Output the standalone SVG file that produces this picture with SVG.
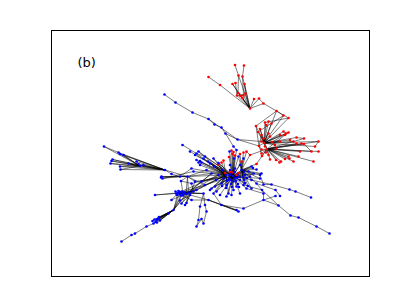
<svg xmlns="http://www.w3.org/2000/svg" width="411" height="308" viewBox="0 0 411 308">
<style>
.e{fill:none;stroke:#000;stroke-width:0.6;stroke-opacity:0.85;stroke-linecap:round}
.r{fill:#ff0000}
.b{fill:#0000ff}
.lbl{font-family:"DejaVu Sans",sans-serif;font-size:13px;fill:#000}
</style>
<rect x="0" y="0" width="411" height="308" fill="#fff"/>
<rect x="51.5" y="30.5" width="318" height="246" fill="none" stroke="#000" stroke-width="1"/>
<text class="lbl" x="77.5" y="66.5">(b)</text>
<g id="connectors">
<path class="e" d="M208.5 77L220 85M220 85L250 108.5M235 65L238.5 75.5M238.5 75.5L238 93M244 65.5L242.5 76.5M242.5 76.5L243.5 95.5M232.5 84L240.5 96M235.5 83L237 95.5M244.5 84L245.5 93.5M238 93L250 108.5M240.5 96L250 108.5M243.5 95.5L250 108.5M245.5 93.5L250 108.5M237 95.5L250 108.5M242.5 98L250 108.5M238.5 75.5L250 108.5M242.5 76.5L250 108.5M232.5 84L250 108.5M244.5 84L250 108.5M238 93L243.5 95.5M240.5 96L245.5 93.5M237 95.5L243.5 95.5M250 108.5L254 99M250 108.5L259 98.5M250 108.5L263.5 103.5M259 98.5L263.5 103.5M263.5 103.5L276.5 111M276.5 111L283.5 115.5M276.5 111L288.5 118"/>
<path class="e" d="M264 143L256 126M264 143L260 129M264 143L265 122.5M264 143L268.5 121.5M264 143L266 125M264 143L271.5 123.5M264 143L261.5 135M264 143L263.5 138.5M264 143L261.5 141.5M264 143L268.5 133.5M264 143L270 136.5M264 143L283.5 131.5M264 143L286 133.5M264 143L288.5 132.5M264 143L280 135M264 143L296.5 137.5M264 143L293.5 141.5M264 143L318.5 141.5M264 143L315 146.5M264 143L265 146.5M264 143L275 145M264 143L280 141.5M264 143L290 140M264 143L259 146M264 143L272 142M264 143L258 132M264 143L283.5 115.5M264 143L288.5 118M264 143L276.5 111"/>
<path class="e" d="M267 149L285 135M267 149L304 138.5M267 149L296.5 143.5M267 149L301.5 143.5M267 149L304 144M267 149L318.5 151.5M267 149L311.5 151.5M267 149L300 151.5M267 149L298.5 156.5M267 149L288.5 156.5M267 149L289.5 158.5M267 149L313.5 161.5M267 149L293.5 161.5M267 149L285 159M267 149L279.5 162.5M267 149L281 161.5M267 149L276 160M267 149L270 159.5M267 149L261.5 149.5M267 149L266 152.5M267 149L268.5 155M267 149L261.5 153.5M267 149L276.5 148.5M267 149L262 156M267 149L264 143M267 149L318.5 141.5M267 149L250 155M267 149L260 129"/>
<path class="e" d="M283.5 115.5L258 132M288.5 118L265 122.5M276.5 111L256 126M283.5 131.5L286 133.5M288.5 132.5L272 142M304 144L311.5 151.5M261.5 149.5L259 146M296.5 137.5L304 138.5M315 146.5L318.5 141.5M259 146L261.5 135M259 146L261.5 153.5M259 146L256 126M246.5 151.5L250 155M256.5 164L267 149M250 155L241.5 170"/>
<path class="e" d="M164.5 94.5L175.5 102.5L192.5 112.5L208.5 119L214.5 124.5L221.5 127.5L225.5 133.5L237.5 139.5L259 146M237.5 139.5L261.5 141.5M208.5 119L237.5 139.5M225.5 133.5L233.5 146.5L236.5 150M182.5 145L196.5 153.5L205 156.5L233 176M196.5 153.5L226 175"/>
<path class="e" d="M233 176L229.5 151.5M233 176L236.5 150M233 176L238.5 156.5M233 176L234 158.5M233 176L240 165M233 176L230 165M233 176L233.5 190M233 176L228.5 193.5M233 176L221.5 183.5M233 176L223.5 178.5M233 176L233.5 181.5M233 176L240 180M233 176L236.5 186.5M233 176L235 168.5M233 176L228.5 180M233 176L226.5 185M233 176L230 170M233 176L237 178M233 176L229 178M233 176L238 174M233 176L231 173M233 176L205 185M233 176L206.5 170M233 176L196.5 160M233 176L195 155M233 176L190 151.5M233 176L191.5 168.5M233 176L195 181.5M233 176L251.5 180M233 176L246.5 188.5M233 176L240 193.5M233 176L253.5 173.5M233 176L251.5 166.5M233 176L220 195M233 176L215 186.5M233 176L231.5 150.5M233 176L233.5 152M233 176L235 155.5M233 176L225 173M233 176L232.5 172.5M233 176L241.5 161.5M233 176L241.5 170M233 176L226 175M233 176L232.5 154M233 176L229 157"/>
<path class="e" d="M233 176L236 181M233 176L239 177M233 176L235 172M233 176L231 180M233 176L243 177M233 176L238 184M233 176L227 181M233 176L231 184M233 176L244 172M233 176L236 175M233 176L229.5 175M233 176L234.5 178.5M233 176L239 187M233 176L245 183M233 176L232 187M233 176L226 188M233 176L222 186M233 176L247 178M233 176L201.5 181.5M233 176L211.5 188.5M233 176L216.5 191.5M233 176L226.5 196.5M233 176L231.5 195M233 176L251.5 188.5M233 176L260 178.5M233 176L261.5 173.5M233 176L236.5 175M233 176L238.5 173M233 176L230 172M233 176L198.5 151.5M233 176L213.5 158.5M233 176L218.5 163M233 176L208 161.5"/>
<path class="e" d="M241.5 170L243.5 158.5M241.5 170L251.5 166.5M241.5 170L256.5 169.5M241.5 170L253.5 173.5M241.5 170L260 175M241.5 170L251.5 180M241.5 170L256.5 183.5M241.5 170L245 175M241.5 170L248.5 171.5M241.5 170L244 180M241.5 170L248 186M241.5 170L253 168M241.5 170L250 176.5M241.5 170L243.5 185M241.5 170L240 180M241.5 170L240 154M241.5 170L243.5 152.5M241.5 170L256.5 164M241.5 170L240 165M241.5 170L246.5 151.5M241.5 170L241.5 161.5M241.5 170L238.5 156.5M241.5 170L239 177M241.5 170L243 177M241.5 170L244 172M241.5 170L245 183M241.5 170L247 178M241.5 170L251.5 188.5M241.5 170L260 178.5M241.5 170L261.5 173.5M241.5 170L238.5 173"/>
<path class="e" d="M226 175L213.5 193.5M226 175L210 190M226 175L218.5 175M226 175L211.5 173.5M226 175L200 165M226 175L203.5 158.5M226 175L193.5 171.5M226 175L191.5 183.5M226 175L196.5 190M226 175L190 193.5M226 175L222 170M226 175L216 180M226 175L215 186.5M226 175L221.5 183.5M226 175L223.5 160.5M226 175L221.5 162.5M226 175L218 164.5M226 175L210 163.5M226 175L214 166.5M226 175L201.5 162.5M226 175L198.5 162.5M226 175L200 161M226 175L228.5 193.5M226 175L205 185M226 175L227 181M226 175L226 188M226 175L222 186M226 175L201.5 181.5M226 175L211.5 188.5M226 175L216.5 191.5M226 175L198.5 151.5M226 175L213.5 158.5M226 175L218.5 163M226 175L208 161.5"/>
<path class="e" d="M104 146.5L118.5 152.5M104 146.5L140 166M118.5 152.5L140 166M120 154L140 166M123.5 155L140 166M112.5 159.5L140 166M111.5 161L140 166M110.5 163.5L140 166M120 166.5L140 166M120.5 169.5L140 166M128.5 163.5L140 166M136.5 161.5L140 166M138.5 164L140 166M143.5 165L140 166M118.5 152.5L165 170M120 154L165 170M123.5 155L165 170M112.5 159.5L165 170M111.5 161L165 170M110.5 163.5L165 170M120 166.5L165 170M120.5 169.5L165 170M128.5 163.5L165 170M136.5 161.5L165 170M138.5 164L165 170M143.5 165L165 170M140 166L165 170M165 170L171.5 174L180 176.5L187.5 176.5M187.5 176.5L195 181.5M187.5 176.5L205 185M187.5 176.5L206.5 170M161.5 176.5L180 176.5M162.5 178.5L180 176.5M161 177.5L187.5 176.5M161.5 176.5L187.5 176.5M162.5 178.5L193.5 171.5M181 181L187.5 176.5M181 181L191.5 183.5M180 176.5L191.5 168.5M165 170L187.5 176.5M187.5 176.5L211.5 173.5M187.5 176.5L226 175"/>
<path class="e" d="M175.5 191.5L178 193M180 192L178 193M183 193.5L178 193M177 195L178 193M181 195.5L178 193M186 194L178 193M155 195L178 193M171.5 200L178 193M180 200.5L190 195M181.5 203.5L190 195M185 205L190 195M186.5 203L190 195M191.5 200L178 193M190 195L178 193M193.5 191.5L178 193M203.5 193.5L178 193M190 195L195 181.5M193.5 191.5L191.5 183.5M203.5 193.5L190 193.5M178 193L196.5 190M178 193L205 185M186 194L187.5 176.5M183 193.5L181 181M178 193L173.5 210L168.5 213.5M180 192L173.5 210M183 193.5L173.5 210M186 194L173.5 210M181 195.5L173.5 210M158.5 218.5L153.5 223.5L146.5 226.5L135 233.5L131.5 235L121.5 241.5M168.5 213.5L160 220.5M168.5 213.5L156.5 220M168.5 213.5L154.5 219.5M186 194L211.5 173.5M178 193L218.5 175"/>
<path class="e" d="M178.5 191L188.5 192.5M182 191.5L188.5 192.5M184.5 192.5L188.5 192.5M176 193.5L188.5 192.5M179.5 194.5L188.5 192.5M183 195.5L188.5 192.5M178 193L188.5 192.5M155 195L188.5 192.5M188.5 192.5L193.5 191.5M188.5 192.5L203.5 193.5M188.5 192.5L196.5 190M188.5 192.5L205 185M188.5 192.5L187.5 176.5M188.5 192.5L173.5 210M188.5 192.5L171.5 200M188.5 192.5L181.5 203.5M188.5 192.5L186.5 203M188.5 192.5L211.5 173.5M188.5 192.5L218.5 175M173.5 210L158.5 218.5M173.5 210L156.5 220M173.5 210L157.5 219M173.5 210L153.5 223.5M173.5 210L154.5 219.5M173.5 210L159 217M173.5 210L155.5 222M173.5 210L160 220.5M173.5 210L152.5 221M173.5 210L157 222.5"/>
<path class="e" d="M203.5 193.5L205 205L206.5 211.5L203.5 223.5L201.5 219M200 206.5L198.5 220L196.5 226.5M200 206.5L203.5 193.5M201.5 219L196.5 226.5"/>
<path class="e" d="M191.5 200L208.5 200L221.5 205L236.5 210M221.5 205L238.5 211.5M221.5 205L243.5 208.5M208.5 200L236.5 210M213.5 193.5L221.5 205M243.5 208.5L263.5 200L263.5 193.5L246.5 188.5M263.5 200L275.5 196M190 195L208.5 200M208.5 200L238.5 211.5"/>
<path class="e" d="M260 175L263.5 184.5L271.5 184.5L289.5 189.5L295.5 191.5L311 197.5M251.5 180L271.5 184.5M256.5 183.5L275.5 190L280 196M262 190L278.5 205.5L290.5 215.5L298.5 217.5L316.5 226.5L329.5 233.5M243.5 185L262 190M256.5 183.5L262 190M262 190L263.5 193.5M263.5 200L278.5 205.5"/>
</g>
<g id="nodes">
<g id="r1"><circle class="r" cx="208.5" cy="77" r="1.3"/></g>
<g id="r2"><circle class="r" cx="220" cy="85" r="1.3"/></g>
<g id="r3"><circle class="r" cx="235" cy="65" r="1.3"/></g>
<g id="r4"><circle class="r" cx="244" cy="65.5" r="1.3"/></g>
<g id="r5"><circle class="r" cx="238.5" cy="75.5" r="1.3"/></g>
<g id="r6"><circle class="r" cx="242.5" cy="76.5" r="1.3"/></g>
<g id="r7"><circle class="r" cx="232.5" cy="84" r="1.3"/></g>
<g id="r8"><circle class="r" cx="235.5" cy="83" r="1.3"/></g>
<g id="r9"><circle class="r" cx="244.5" cy="84" r="1.3"/></g>
<g id="r10"><circle class="r" cx="238" cy="93" r="1.3"/></g>
<g id="r11"><circle class="r" cx="240.5" cy="96" r="1.3"/></g>
<g id="r12"><circle class="r" cx="243.5" cy="95.5" r="1.3"/></g>
<g id="r13"><circle class="r" cx="245.5" cy="93.5" r="1.3"/></g>
<g id="r14"><circle class="r" cx="237" cy="95.5" r="1.3"/></g>
<g id="r15"><circle class="r" cx="242.5" cy="98" r="1.3"/></g>
<g id="r16"><circle class="r" cx="250" cy="108.5" r="1.3"/></g>
<g id="r17"><circle class="r" cx="254" cy="99" r="1.3"/></g>
<g id="r18"><circle class="r" cx="259" cy="98.5" r="1.3"/></g>
<g id="r19"><circle class="r" cx="263.5" cy="103.5" r="1.3"/></g>
<g id="r20"><circle class="r" cx="276.5" cy="111" r="1.3"/></g>
<g id="r21"><circle class="r" cx="283.5" cy="115.5" r="1.3"/></g>
<g id="r22"><circle class="r" cx="288.5" cy="118" r="1.3"/></g>
<g id="r23"><circle class="r" cx="256" cy="126" r="1.3"/></g>
<g id="r24"><circle class="r" cx="260" cy="129" r="1.3"/></g>
<g id="r25"><circle class="r" cx="265" cy="122.5" r="1.3"/></g>
<g id="r26"><circle class="r" cx="268.5" cy="121.5" r="1.3"/></g>
<g id="r27"><circle class="r" cx="266" cy="125" r="1.3"/></g>
<g id="r28"><circle class="r" cx="271.5" cy="123.5" r="1.3"/></g>
<g id="r29"><circle class="r" cx="261.5" cy="135" r="1.3"/></g>
<g id="r30"><circle class="r" cx="263.5" cy="138.5" r="1.3"/></g>
<g id="r31"><circle class="r" cx="261.5" cy="141.5" r="1.3"/></g>
<g id="r32"><circle class="r" cx="268.5" cy="133.5" r="1.3"/></g>
<g id="r33"><circle class="r" cx="270" cy="136.5" r="1.3"/></g>
<g id="r34"><circle class="r" cx="283.5" cy="131.5" r="1.3"/></g>
<g id="r35"><circle class="r" cx="286" cy="133.5" r="1.3"/></g>
<g id="r36"><circle class="r" cx="288.5" cy="132.5" r="1.3"/></g>
<g id="r37"><circle class="r" cx="285" cy="135" r="1.3"/></g>
<g id="r38"><circle class="r" cx="280" cy="135" r="1.3"/></g>
<g id="r39"><circle class="r" cx="296.5" cy="137.5" r="1.3"/></g>
<g id="r40"><circle class="r" cx="304" cy="138.5" r="1.3"/></g>
<g id="r41"><circle class="r" cx="293.5" cy="141.5" r="1.3"/></g>
<g id="r42"><circle class="r" cx="296.5" cy="143.5" r="1.3"/></g>
<g id="r43"><circle class="r" cx="301.5" cy="143.5" r="1.3"/></g>
<g id="r44"><circle class="r" cx="304" cy="144" r="1.3"/></g>
<g id="r45"><circle class="r" cx="318.5" cy="141.5" r="1.3"/></g>
<g id="r46"><circle class="r" cx="315" cy="146.5" r="1.3"/></g>
<g id="r47"><circle class="r" cx="318.5" cy="151.5" r="1.3"/></g>
<g id="r48"><circle class="r" cx="311.5" cy="151.5" r="1.3"/></g>
<g id="r49"><circle class="r" cx="300" cy="151.5" r="1.3"/></g>
<g id="r50"><circle class="r" cx="298.5" cy="156.5" r="1.3"/></g>
<g id="r51"><circle class="r" cx="288.5" cy="156.5" r="1.3"/></g>
<g id="r52"><circle class="r" cx="289.5" cy="158.5" r="1.3"/></g>
<g id="r53"><circle class="r" cx="313.5" cy="161.5" r="1.3"/></g>
<g id="r54"><circle class="r" cx="293.5" cy="161.5" r="1.3"/></g>
<g id="r55"><circle class="r" cx="285" cy="159" r="1.3"/></g>
<g id="r56"><circle class="r" cx="279.5" cy="162.5" r="1.3"/></g>
<g id="r57"><circle class="r" cx="281" cy="161.5" r="1.3"/></g>
<g id="r58"><circle class="r" cx="276" cy="160" r="1.3"/></g>
<g id="r59"><circle class="r" cx="270" cy="159.5" r="1.3"/></g>
<g id="r60"><circle class="r" cx="265" cy="146.5" r="1.3"/></g>
<g id="r61"><circle class="r" cx="261.5" cy="149.5" r="1.3"/></g>
<g id="r62"><circle class="r" cx="266" cy="152.5" r="1.3"/></g>
<g id="r63"><circle class="r" cx="268.5" cy="155" r="1.3"/></g>
<g id="r64"><circle class="r" cx="261.5" cy="153.5" r="1.3"/></g>
<g id="r65"><circle class="r" cx="275" cy="145" r="1.3"/></g>
<g id="r66"><circle class="r" cx="276.5" cy="148.5" r="1.3"/></g>
<g id="r67"><circle class="r" cx="280" cy="141.5" r="1.3"/></g>
<g id="r68"><circle class="r" cx="290" cy="140" r="1.3"/></g>
<g id="r69"><circle class="r" cx="264" cy="143" r="1.3"/></g>
<g id="r70"><circle class="r" cx="267" cy="149" r="1.3"/></g>
<g id="r71"><circle class="r" cx="259" cy="146" r="1.3"/></g>
<g id="r72"><circle class="r" cx="272" cy="142" r="1.3"/></g>
<g id="r73"><circle class="r" cx="258" cy="132" r="1.3"/></g>
<g id="r74"><circle class="r" cx="262" cy="156" r="1.3"/></g>
<g id="r75"><circle class="r" cx="231.5" cy="150.5" r="1.3"/></g>
<g id="r76"><circle class="r" cx="233.5" cy="152" r="1.3"/></g>
<g id="r77"><circle class="r" cx="232.5" cy="154" r="1.3"/></g>
<g id="r78"><circle class="r" cx="235" cy="155.5" r="1.3"/></g>
<g id="r79"><circle class="r" cx="240" cy="154" r="1.3"/></g>
<g id="r80"><circle class="r" cx="243.5" cy="152.5" r="1.3"/></g>
<g id="r81"><circle class="r" cx="246.5" cy="151.5" r="1.3"/></g>
<g id="r82"><circle class="r" cx="223.5" cy="160.5" r="1.3"/></g>
<g id="r83"><circle class="r" cx="221.5" cy="162.5" r="1.3"/></g>
<g id="r84"><circle class="r" cx="218" cy="164.5" r="1.3"/></g>
<g id="r85"><circle class="r" cx="256.5" cy="164" r="1.3"/></g>
<g id="r86"><circle class="r" cx="241.5" cy="161.5" r="1.3"/></g>
<g id="r87"><circle class="r" cx="225" cy="173" r="1.3"/></g>
<g id="r88"><circle class="r" cx="232.5" cy="172.5" r="1.3"/></g>
<g id="r89"><circle class="r" cx="250" cy="155" r="1.3"/></g>
<g id="r90"><circle class="r" cx="229" cy="157" r="1.3"/></g>
<g id="b1"><circle class="b" cx="229.5" cy="151.5" r="1.3"/></g>
<g id="b2"><circle class="b" cx="236.5" cy="150" r="1.3"/></g>
<g id="b3"><circle class="b" cx="238.5" cy="156.5" r="1.3"/></g>
<g id="b4"><circle class="b" cx="234" cy="158.5" r="1.3"/></g>
<g id="b5"><circle class="b" cx="243.5" cy="158.5" r="1.3"/></g>
<g id="b6"><circle class="b" cx="240" cy="165" r="1.3"/></g>
<g id="b7"><circle class="b" cx="230" cy="165" r="1.3"/></g>
<g id="b8"><circle class="b" cx="251.5" cy="166.5" r="1.3"/></g>
<g id="b9"><circle class="b" cx="256.5" cy="169.5" r="1.3"/></g>
<g id="b10"><circle class="b" cx="253.5" cy="173.5" r="1.3"/></g>
<g id="b11"><circle class="b" cx="260" cy="175" r="1.3"/></g>
<g id="b12"><circle class="b" cx="251.5" cy="180" r="1.3"/></g>
<g id="b13"><circle class="b" cx="256.5" cy="183.5" r="1.3"/></g>
<g id="b14"><circle class="b" cx="246.5" cy="188.5" r="1.3"/></g>
<g id="b15"><circle class="b" cx="240" cy="193.5" r="1.3"/></g>
<g id="b16"><circle class="b" cx="233.5" cy="190" r="1.3"/></g>
<g id="b17"><circle class="b" cx="228.5" cy="193.5" r="1.3"/></g>
<g id="b18"><circle class="b" cx="220" cy="195" r="1.3"/></g>
<g id="b19"><circle class="b" cx="213.5" cy="193.5" r="1.3"/></g>
<g id="b20"><circle class="b" cx="210" cy="190" r="1.3"/></g>
<g id="b21"><circle class="b" cx="205" cy="185" r="1.3"/></g>
<g id="b22"><circle class="b" cx="215" cy="186.5" r="1.3"/></g>
<g id="b23"><circle class="b" cx="221.5" cy="183.5" r="1.3"/></g>
<g id="b24"><circle class="b" cx="223.5" cy="178.5" r="1.3"/></g>
<g id="b25"><circle class="b" cx="218.5" cy="175" r="1.3"/></g>
<g id="b26"><circle class="b" cx="211.5" cy="173.5" r="1.3"/></g>
<g id="b27"><circle class="b" cx="206.5" cy="170" r="1.3"/></g>
<g id="b28"><circle class="b" cx="200" cy="165" r="1.3"/></g>
<g id="b29"><circle class="b" cx="196.5" cy="160" r="1.3"/></g>
<g id="b30"><circle class="b" cx="203.5" cy="158.5" r="1.3"/></g>
<g id="b31"><circle class="b" cx="195" cy="155" r="1.3"/></g>
<g id="b32"><circle class="b" cx="190" cy="151.5" r="1.3"/></g>
<g id="b33"><circle class="b" cx="191.5" cy="168.5" r="1.3"/></g>
<g id="b34"><circle class="b" cx="193.5" cy="171.5" r="1.3"/></g>
<g id="b35"><circle class="b" cx="195" cy="181.5" r="1.3"/></g>
<g id="b36"><circle class="b" cx="191.5" cy="183.5" r="1.3"/></g>
<g id="b37"><circle class="b" cx="196.5" cy="190" r="1.3"/></g>
<g id="b38"><circle class="b" cx="190" cy="193.5" r="1.3"/></g>
<g id="b39"><circle class="b" cx="233.5" cy="181.5" r="1.3"/></g>
<g id="b40"><circle class="b" cx="240" cy="180" r="1.3"/></g>
<g id="b41"><circle class="b" cx="243.5" cy="185" r="1.3"/></g>
<g id="b42"><circle class="b" cx="236.5" cy="186.5" r="1.3"/></g>
<g id="b43"><circle class="b" cx="245" cy="175" r="1.3"/></g>
<g id="b44"><circle class="b" cx="248.5" cy="171.5" r="1.3"/></g>
<g id="b45"><circle class="b" cx="235" cy="168.5" r="1.3"/></g>
<g id="b46"><circle class="b" cx="241.5" cy="170" r="1.3"/></g>
<g id="b47"><circle class="b" cx="228.5" cy="180" r="1.3"/></g>
<g id="b48"><circle class="b" cx="226.5" cy="185" r="1.3"/></g>
<g id="b49"><circle class="b" cx="230" cy="170" r="1.3"/></g>
<g id="b50"><circle class="b" cx="233" cy="176" r="1.3"/></g>
<g id="b52"><circle class="b" cx="226" cy="175" r="1.3"/></g>
<g id="b53"><circle class="b" cx="237" cy="178" r="1.3"/></g>
<g id="b54"><circle class="b" cx="229" cy="178" r="1.3"/></g>
<g id="b55"><circle class="b" cx="238" cy="174" r="1.3"/></g>
<g id="b56"><circle class="b" cx="231" cy="173" r="1.3"/></g>
<g id="b57"><circle class="b" cx="244" cy="180" r="1.3"/></g>
<g id="b58"><circle class="b" cx="222" cy="170" r="1.3"/></g>
<g id="b59"><circle class="b" cx="216" cy="180" r="1.3"/></g>
<g id="b60"><circle class="b" cx="248" cy="186" r="1.3"/></g>
<g id="b61"><circle class="b" cx="253" cy="168" r="1.3"/></g>
<g id="b63"><circle class="b" cx="250" cy="176.5" r="1.3"/></g>
<g id="c1"><circle class="b" cx="236" cy="181" r="1.3"/></g>
<g id="c2"><circle class="b" cx="239" cy="177" r="1.3"/></g>
<g id="c3"><circle class="b" cx="235" cy="172" r="1.3"/></g>
<g id="c4"><circle class="b" cx="231" cy="180" r="1.3"/></g>
<g id="c5"><circle class="b" cx="243" cy="177" r="1.3"/></g>
<g id="c6"><circle class="b" cx="238" cy="184" r="1.3"/></g>
<g id="c7"><circle class="b" cx="227" cy="181" r="1.3"/></g>
<g id="c8"><circle class="b" cx="231" cy="184" r="1.3"/></g>
<g id="c9"><circle class="b" cx="244" cy="172" r="1.3"/></g>
<g id="c10"><circle class="b" cx="236" cy="175" r="1.3"/></g>
<g id="c11"><circle class="b" cx="229.5" cy="175" r="1.3"/></g>
<g id="c12"><circle class="b" cx="234.5" cy="178.5" r="1.3"/></g>
<g id="c13"><circle class="b" cx="239" cy="187" r="1.3"/></g>
<g id="c14"><circle class="b" cx="245" cy="183" r="1.3"/></g>
<g id="c15"><circle class="b" cx="232" cy="187" r="1.3"/></g>
<g id="c16"><circle class="b" cx="226" cy="188" r="1.3"/></g>
<g id="c17"><circle class="b" cx="222" cy="186" r="1.3"/></g>
<g id="c18"><circle class="b" cx="247" cy="178" r="1.3"/></g>
<g id="c19"><circle class="r" cx="236.5" cy="175" r="1.3"/></g>
<g id="c20"><circle class="r" cx="238.5" cy="173" r="1.3"/></g>
<g id="c21"><circle class="r" cx="230" cy="172" r="1.3"/></g>
<g id="d1"><circle class="b" cx="201.5" cy="181.5" r="1.3"/></g>
<g id="d3"><circle class="b" cx="211.5" cy="188.5" r="1.3"/></g>
<g id="d4"><circle class="b" cx="216.5" cy="191.5" r="1.3"/></g>
<g id="d6"><circle class="b" cx="226.5" cy="196.5" r="1.3"/></g>
<g id="d7"><circle class="b" cx="231.5" cy="195" r="1.3"/></g>
<g id="d10"><circle class="b" cx="251.5" cy="188.5" r="1.3"/></g>
<g id="d12"><circle class="b" cx="260" cy="178.5" r="1.3"/></g>
<g id="d13"><circle class="b" cx="261.5" cy="173.5" r="1.3"/></g>
<g id="e1"><circle class="b" cx="198.5" cy="151.5" r="1.3"/></g>
<g id="e2"><circle class="b" cx="213.5" cy="158.5" r="1.3"/></g>
<g id="e3"><circle class="b" cx="218.5" cy="163" r="1.3"/></g>
<g id="e4"><circle class="b" cx="208" cy="161.5" r="1.3"/></g>
<g id="b70"><circle class="b" cx="164.5" cy="94.5" r="1.3"/></g>
<g id="b71"><circle class="b" cx="175.5" cy="102.5" r="1.3"/></g>
<g id="b72"><circle class="b" cx="192.5" cy="112.5" r="1.3"/></g>
<g id="b73"><circle class="b" cx="208.5" cy="119" r="1.3"/></g>
<g id="b74"><circle class="b" cx="214.5" cy="124.5" r="1.3"/></g>
<g id="b75"><circle class="b" cx="221.5" cy="127.5" r="1.3"/></g>
<g id="b76"><circle class="b" cx="225.5" cy="133.5" r="1.3"/></g>
<g id="b77"><circle class="b" cx="237.5" cy="139.5" r="1.3"/></g>
<g id="b78"><circle class="b" cx="233.5" cy="146.5" r="1.3"/></g>
<g id="b80"><circle class="b" cx="182.5" cy="145" r="1.3"/></g>
<g id="b81"><circle class="b" cx="196.5" cy="153.5" r="1.3"/></g>
<g id="b82"><circle class="b" cx="205" cy="156.5" r="1.3"/></g>
<g id="b83"><circle class="b" cx="200" cy="161" r="1.3"/></g>
<g id="b84"><circle class="b" cx="201.5" cy="162.5" r="1.3"/></g>
<g id="b85"><circle class="b" cx="198.5" cy="162.5" r="1.3"/></g>
<g id="b86"><circle class="b" cx="210" cy="163.5" r="1.3"/></g>
<g id="b87"><circle class="b" cx="214" cy="166.5" r="1.3"/></g>
<g id="b90"><circle class="b" cx="104" cy="146.5" r="1.3"/></g>
<g id="b91"><circle class="b" cx="118.5" cy="152.5" r="1.3"/></g>
<g id="b92"><circle class="b" cx="120" cy="154" r="1.3"/></g>
<g id="b93"><circle class="b" cx="123.5" cy="155" r="1.3"/></g>
<g id="b94"><circle class="b" cx="112.5" cy="159.5" r="1.3"/></g>
<g id="b95"><circle class="b" cx="111.5" cy="161" r="1.3"/></g>
<g id="b96"><circle class="b" cx="110.5" cy="163.5" r="1.3"/></g>
<g id="b97"><circle class="b" cx="120" cy="166.5" r="1.3"/></g>
<g id="b98"><circle class="b" cx="120.5" cy="169.5" r="1.3"/></g>
<g id="b99"><circle class="b" cx="128.5" cy="163.5" r="1.3"/></g>
<g id="b100"><circle class="b" cx="136.5" cy="161.5" r="1.3"/></g>
<g id="b101"><circle class="b" cx="138.5" cy="164" r="1.3"/></g>
<g id="b102"><circle class="b" cx="140" cy="166" r="1.3"/></g>
<g id="b103"><circle class="b" cx="143.5" cy="165" r="1.3"/></g>
<g id="b104"><circle class="b" cx="165" cy="170" r="1.3"/></g>
<g id="b105"><circle class="b" cx="161.5" cy="176.5" r="1.3"/></g>
<g id="b106"><circle class="b" cx="162.5" cy="178.5" r="1.3"/></g>
<g id="b107"><circle class="b" cx="161" cy="177.5" r="1.3"/></g>
<g id="b108"><circle class="b" cx="171.5" cy="174" r="1.3"/></g>
<g id="b109"><circle class="b" cx="180" cy="176.5" r="1.3"/></g>
<g id="b110"><circle class="b" cx="187.5" cy="176.5" r="1.3"/></g>
<g id="b111"><circle class="b" cx="181" cy="181" r="1.3"/></g>
<g id="b120"><circle class="b" cx="178" cy="193" r="1.3"/></g>
<g id="b121"><circle class="b" cx="175.5" cy="191.5" r="1.3"/></g>
<g id="b122"><circle class="b" cx="180" cy="192" r="1.3"/></g>
<g id="b123"><circle class="b" cx="183" cy="193.5" r="1.3"/></g>
<g id="b124"><circle class="b" cx="177" cy="195" r="1.3"/></g>
<g id="b125"><circle class="b" cx="181" cy="195.5" r="1.3"/></g>
<g id="b126"><circle class="b" cx="186" cy="194" r="1.3"/></g>
<g id="f1"><circle class="b" cx="178.5" cy="191" r="1.3"/></g>
<g id="f2"><circle class="b" cx="182" cy="191.5" r="1.3"/></g>
<g id="f3"><circle class="b" cx="184.5" cy="192.5" r="1.3"/></g>
<g id="f4"><circle class="b" cx="176" cy="193.5" r="1.3"/></g>
<g id="f5"><circle class="b" cx="179.5" cy="194.5" r="1.3"/></g>
<g id="f6"><circle class="b" cx="183" cy="195.5" r="1.3"/></g>
<g id="h1"><circle class="b" cx="188.5" cy="192.5" r="1.3"/></g>
<g id="b127"><circle class="b" cx="155" cy="195" r="1.3"/></g>
<g id="b128"><circle class="b" cx="171.5" cy="200" r="1.3"/></g>
<g id="b129"><circle class="b" cx="180" cy="200.5" r="1.3"/></g>
<g id="b130"><circle class="b" cx="181.5" cy="203.5" r="1.3"/></g>
<g id="b131"><circle class="b" cx="185" cy="205" r="1.3"/></g>
<g id="b132"><circle class="b" cx="186.5" cy="203" r="1.3"/></g>
<g id="b133"><circle class="b" cx="191.5" cy="200" r="1.3"/></g>
<g id="b134"><circle class="b" cx="190" cy="195" r="1.3"/></g>
<g id="b135"><circle class="b" cx="193.5" cy="191.5" r="1.3"/></g>
<g id="b136"><circle class="b" cx="203.5" cy="193.5" r="1.3"/></g>
<g id="b137"><circle class="b" cx="173.5" cy="210" r="1.3"/></g>
<g id="b138"><circle class="b" cx="168.5" cy="213.5" r="1.3"/></g>
<g id="b139"><circle class="b" cx="158.5" cy="218.5" r="1.3"/></g>
<g id="b140"><circle class="b" cx="156.5" cy="220" r="1.3"/></g>
<g id="b141"><circle class="b" cx="160" cy="220.5" r="1.3"/></g>
<g id="b142"><circle class="b" cx="153.5" cy="223.5" r="1.3"/></g>
<g id="b143"><circle class="b" cx="146.5" cy="226.5" r="1.3"/></g>
<g id="b144"><circle class="b" cx="135" cy="233.5" r="1.3"/></g>
<g id="b145"><circle class="b" cx="131.5" cy="235" r="1.3"/></g>
<g id="b146"><circle class="b" cx="121.5" cy="241.5" r="1.3"/></g>
<g id="b147"><circle class="b" cx="157.5" cy="219" r="1.3"/></g>
<g id="g1"><circle class="b" cx="154.5" cy="219.5" r="1.3"/></g>
<g id="g2"><circle class="b" cx="159" cy="217" r="1.3"/></g>
<g id="g3"><circle class="b" cx="155.5" cy="222" r="1.3"/></g>
<g id="g4"><circle class="b" cx="152.5" cy="221" r="1.3"/></g>
<g id="g5"><circle class="b" cx="157" cy="222.5" r="1.3"/></g>
<g id="b150"><circle class="b" cx="200" cy="206.5" r="1.3"/></g>
<g id="b151"><circle class="b" cx="205" cy="205" r="1.3"/></g>
<g id="b152"><circle class="b" cx="206.5" cy="211.5" r="1.3"/></g>
<g id="b153"><circle class="b" cx="198.5" cy="220" r="1.3"/></g>
<g id="b154"><circle class="b" cx="196.5" cy="226.5" r="1.3"/></g>
<g id="b155"><circle class="b" cx="203.5" cy="223.5" r="1.3"/></g>
<g id="b156"><circle class="b" cx="201.5" cy="219" r="1.3"/></g>
<g id="b160"><circle class="b" cx="208.5" cy="200" r="1.3"/></g>
<g id="b161"><circle class="b" cx="221.5" cy="205" r="1.3"/></g>
<g id="b162"><circle class="b" cx="236.5" cy="210" r="1.3"/></g>
<g id="b163"><circle class="b" cx="238.5" cy="211.5" r="1.3"/></g>
<g id="b164"><circle class="b" cx="243.5" cy="208.5" r="1.3"/></g>
<g id="b165"><circle class="b" cx="263.5" cy="200" r="1.3"/></g>
<g id="b166"><circle class="b" cx="263.5" cy="193.5" r="1.3"/></g>
<g id="b167"><circle class="b" cx="275.5" cy="196" r="1.3"/></g>
<g id="b170"><circle class="b" cx="263.5" cy="184.5" r="1.3"/></g>
<g id="b171"><circle class="b" cx="271.5" cy="184.5" r="1.3"/></g>
<g id="b172"><circle class="b" cx="289.5" cy="189.5" r="1.3"/></g>
<g id="b173"><circle class="b" cx="295.5" cy="191.5" r="1.3"/></g>
<g id="b174"><circle class="b" cx="311" cy="197.5" r="1.3"/></g>
<g id="b175"><circle class="b" cx="275.5" cy="190" r="1.3"/></g>
<g id="b176"><circle class="b" cx="280" cy="196" r="1.3"/></g>
<g id="b177"><circle class="b" cx="278.5" cy="205.5" r="1.3"/></g>
<g id="b178"><circle class="b" cx="290.5" cy="215.5" r="1.3"/></g>
<g id="b179"><circle class="b" cx="298.5" cy="217.5" r="1.3"/></g>
<g id="b180"><circle class="b" cx="316.5" cy="226.5" r="1.3"/></g>
<g id="b181"><circle class="b" cx="329.5" cy="233.5" r="1.3"/></g>
<g id="b182"><circle class="b" cx="262" cy="190" r="1.3"/></g>
</g>
</svg>
